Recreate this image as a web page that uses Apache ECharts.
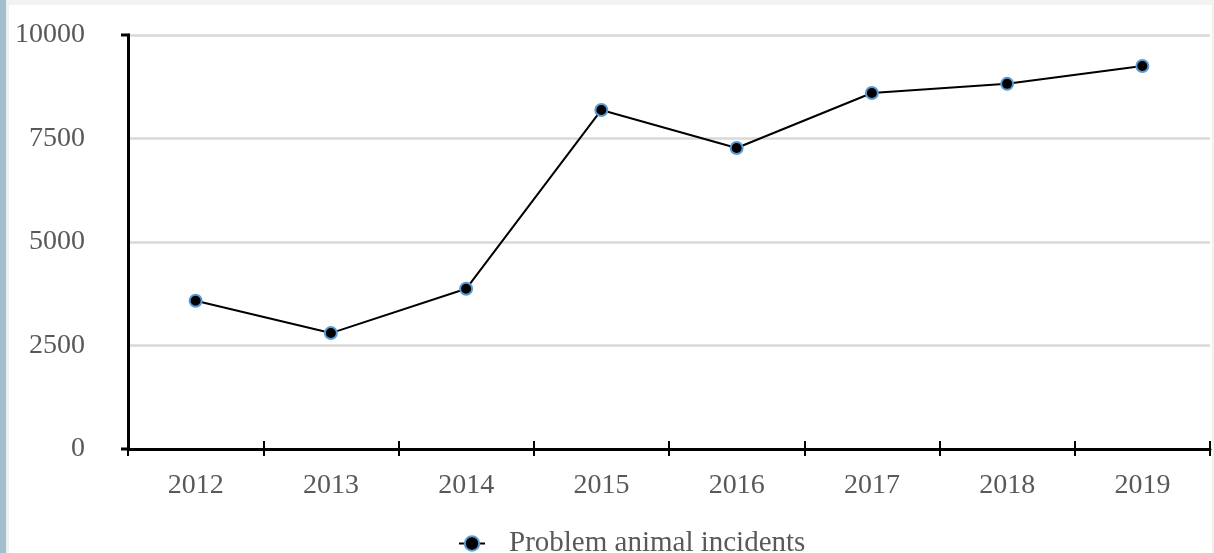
<!DOCTYPE html>
<html>
<head>
<meta charset="utf-8">
<script src="https://cdn.jsdelivr.net/npm/echarts@6/dist/echarts.min.js"></script>
<style>
html,body{margin:0;padding:0;background:#fff;}
#wrap{position:relative;width:1214px;height:553px;overflow:hidden;background:#fff;}
#bar{position:absolute;left:0;top:0;width:6px;height:553px;background:#a3bfcd;}
#bar2{position:absolute;left:6px;top:0;width:3px;height:553px;background:#eef1f2;}
#topband{position:absolute;left:0;top:0;width:1214px;height:5px;background:#f2f2f2;}
#rightband{position:absolute;right:0;top:0;width:2px;height:553px;background:#f2f2f2;}
#chart{position:absolute;left:0;top:0;width:1214px;height:553px;}
</style>
</head>
<body>
<div id="wrap">
<div id="chart"></div>
<div id="topband"></div>
<div id="rightband"></div>
<div id="bar"></div>
<div id="bar2"></div>
</div>
<script>
var categories = ['2012','2013','2014','2015','2016','2017','2018','2019'];
var incidents = [3580, 2800, 3870, 8190, 7270, 8600, 8820, 9250];
var seriesName = 'Problem animal incidents';

var chart = echarts.init(document.getElementById('chart'));
chart.setOption({
  animation: false,
  backgroundColor: 'transparent',
  grid: {left: 128, right: 4, top: 35, bottom: 104, containLabel: false},
  xAxis: [{
    type: 'category',
    data: categories,
    boundaryGap: true,
    position: 'bottom',
    axisLine: {lineStyle: {color: '#000', width: 3}},
    axisTick: {show: true, length: 7, lineStyle: {color: '#000', width: 2}},
    axisLabel: {color: '#595959', fontFamily: 'Liberation Serif', fontSize: 28, margin: 23},
    splitLine: {show: false}
  }, {
    type: 'category',
    data: categories,
    boundaryGap: true,
    position: 'bottom',
    axisLine: {show: false},
    axisTick: {show: true, inside: true, length: 8, lineStyle: {color: '#000', width: 2}},
    axisLabel: {show: false},
    splitLine: {show: false}
  }],
  yAxis: {
    type: 'value',
    min: 0, max: 10000, interval: 2500,
    axisLine: {show: true, lineStyle: {color: '#000', width: 3}},
    axisTick: {show: false},
    axisLabel: {color: '#595959', fontFamily: 'Liberation Serif', fontSize: 28, margin: 43,
      formatter: function (v) { return String(v); }},
    splitLine: {show: true, lineStyle: {color: '#d9d9d9', width: 2.5}}
  },
  legend: {
    top: 524,
    left: 453,
    itemWidth: 26,
    itemHeight: 18,
    textStyle: {color: '#595959', fontFamily: 'Liberation Serif', fontSize: 29, padding: [0, 0, 0, 19]},
    data: [seriesName]
  },
  graphic: [{
    type: 'line',
    shape: {x1: 121, y1: 35, x2: 130, y2: 35},
    style: {stroke: '#000', lineWidth: 3},
    z: 10
  }, {
    type: 'line',
    shape: {x1: 121, y1: 449, x2: 130, y2: 449},
    style: {stroke: '#000', lineWidth: 3},
    z: 10
  }],
  series: [{
    name: seriesName,
    type: 'line',
    data: incidents,
    symbol: 'circle',
    symbolSize: 12,
    lineStyle: {color: '#000', width: 2},
    itemStyle: {color: '#000', borderColor: '#5b9bd5', borderWidth: 2},
    z: 5
  }]
});
</script>
</body>
</html>
